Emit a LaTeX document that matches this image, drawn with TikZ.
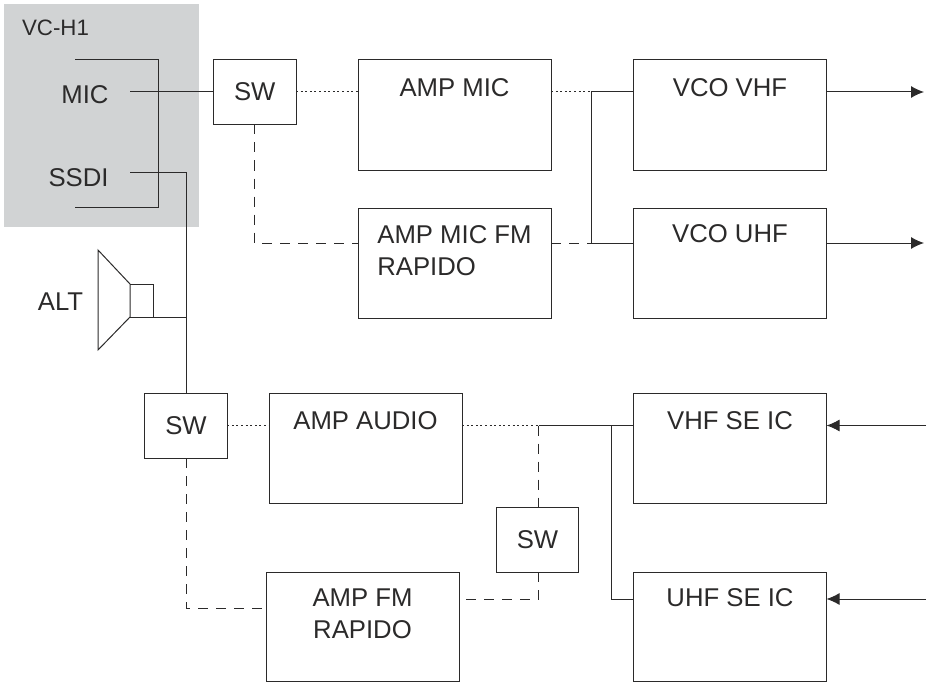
\documentclass[tikz,border=0pt]{standalone}
\usepackage{fontspec}
\setmainfont{Liberation Sans}
\usetikzlibrary{calc, positioning, arrows.meta}
\definecolor{inkline}{HTML}{2B2A2A}
\definecolor{panelgray}{HTML}{D1D3D4}

\begin{document}
\begin{tikzpicture}[x=1pt,y=-1pt,line width=1pt,color=inkline,
item/.style={draw,inner sep=0pt,outer sep=0pt,align=center,font=\fontsize{25.7}{32}\selectfont},
swbox/.style={item,minimum width=82.5pt,minimum height=65pt},
blk/.style={item,minimum width=193pt,minimum height=109pt,text height=#1,text depth={110pt-#1}},
lbl/.style={inner sep=0pt,font=\fontsize{25.7}{30}\selectfont},
dashline/.style={dash pattern=on 10pt off 8pt},
dotline/.style={dash pattern=on 2pt off 2.6pt},
arr/.style={-{Latex[length=13pt,width=12pt]}}]
 \useasboundingbox (0,0) rectangle (929,682);
 \fill[panelgray] (4,4) rectangle (199,227);

 % upper row
 \node[swbox] (swmic) at (254.75,92) {SW};
 \node[blk=37pt,anchor=north west] (ampmic) at (358,60) {AMP MIC};
 \node[blk=67pt,align=left,below=38pt of ampmic] (ampfm) {AMP MIC FM\\RAPIDO};
 \node[blk=37pt,anchor=north west] (vcovhf) at (633.5,60) {VCO VHF};
 \node[blk=34pt,below=38pt of vcovhf] (vcouhf) {VCO UHF};

 % lower row
 \node[swbox] (swaud) at (186,425.5) {SW};
 \node[blk=36pt,anchor=north west] (ampaud) at (269,393) {AMP AUDIO};
 \node[blk=66pt,text depth=43pt,anchor=north west] (amprap) at (266,572) {AMP FM\\RAPIDO};
 \node[blk=36pt,anchor=north west] (vhfic) at (633.5,393) {VHF SE IC};
 \node[blk=34pt,text depth=75pt,anchor=north west] (uhfic) at (633.5,572) {UHF SE IC};
 \node[swbox] (swfm) at (537.5,539.5) {SW};

 % panel
 \node[lbl,font=\fontsize{22.3}{24}\selectfont] (vch) at (55.5,28) {VC-H1};
 \node[lbl] (mic) at (85,94.5) {MIC};
 \node[lbl] (ssdi) at (78.5,177.5) {SSDI};
 \node[lbl] (alt) at (60.5,302) {ALT};

 \coordinate (brtop) at (75,60);
 \coordinate (brbot) at (75,207);
 \coordinate (micend) at (130,92);
 \coordinate (ssdiend) at (130,172.5);
 \draw (brtop) -- (158,60) -- (158,207) -- (brbot);
 \draw (micend) -- (swmic.west);
 \draw (ssdiend) -| (swaud.north);

 % speaker
 \coordinate (sptop) at (130,284);
 \coordinate (spbot) at (130,317);
 \draw (sptop) -- (98,250) -- (98,350) -- (spbot) -- cycle;
 \draw (sptop) -- (153,284) -- (153,317);
 \draw (spbot) -- (spbot -| swaud.north);

 % upper connectors
 \coordinate (jup) at (591,92);
 \coordinate (jdn) at (591,243);
 \draw[dotline] (swmic.east) -- (swmic.east -| ampmic.west);
 \draw[dotline] (jup -| ampmic.east) -- (jup);
 \draw (jup) -- (jup -| vcovhf.west);
 \draw (jup) -- (jdn) -- (jdn -| vcouhf.west);
 \draw[dashline] (swmic.south) |- (jdn -| ampfm.west);
 \draw[dashline] (jdn -| ampfm.east) -- (jdn);
 \coordinate (outvhf) at (924,92);
 \coordinate (outuhf) at (924,243);
 \draw[arr] (outvhf -| vcovhf.east) -- (outvhf);
 \draw[arr] (outuhf -| vcouhf.east) -- (outuhf);

 % lower connectors
 \coordinate (jsw) at (538.5,425.5);
 \coordinate (jic) at (611.5,425.5);
 \coordinate (jic2) at (611.5,599);
 \coordinate (jfm) at (538.5,599);
 \coordinate (jrap) at (186,608);
 \draw[dotline] (swaud.east) -- (swaud.east -| ampaud.west);
 \draw[dotline] (jsw -| ampaud.east) -- (jsw);
 \draw (jsw) -- (jsw -| vhfic.west);
 \draw (jic) -- (jic2) -- (jic2 -| uhfic.west);
 \draw[dashline] (jsw) -- (jsw |- swfm.north);
 \draw[dashline] (jsw |- swfm.south) -- (jfm) -- (jfm -| amprap.east);
 \draw[dashline] (swaud.south) -- (jrap) -- (jrap -| amprap.west);

 \coordinate (invhf) at (926,425.5);
 \coordinate (inuhf) at (926,599);
 \draw[arr] (invhf) -- (invhf -| vhfic.east);
 \draw[arr] (inuhf) -- (inuhf -| uhfic.east);
\end{tikzpicture}
\end{document}
